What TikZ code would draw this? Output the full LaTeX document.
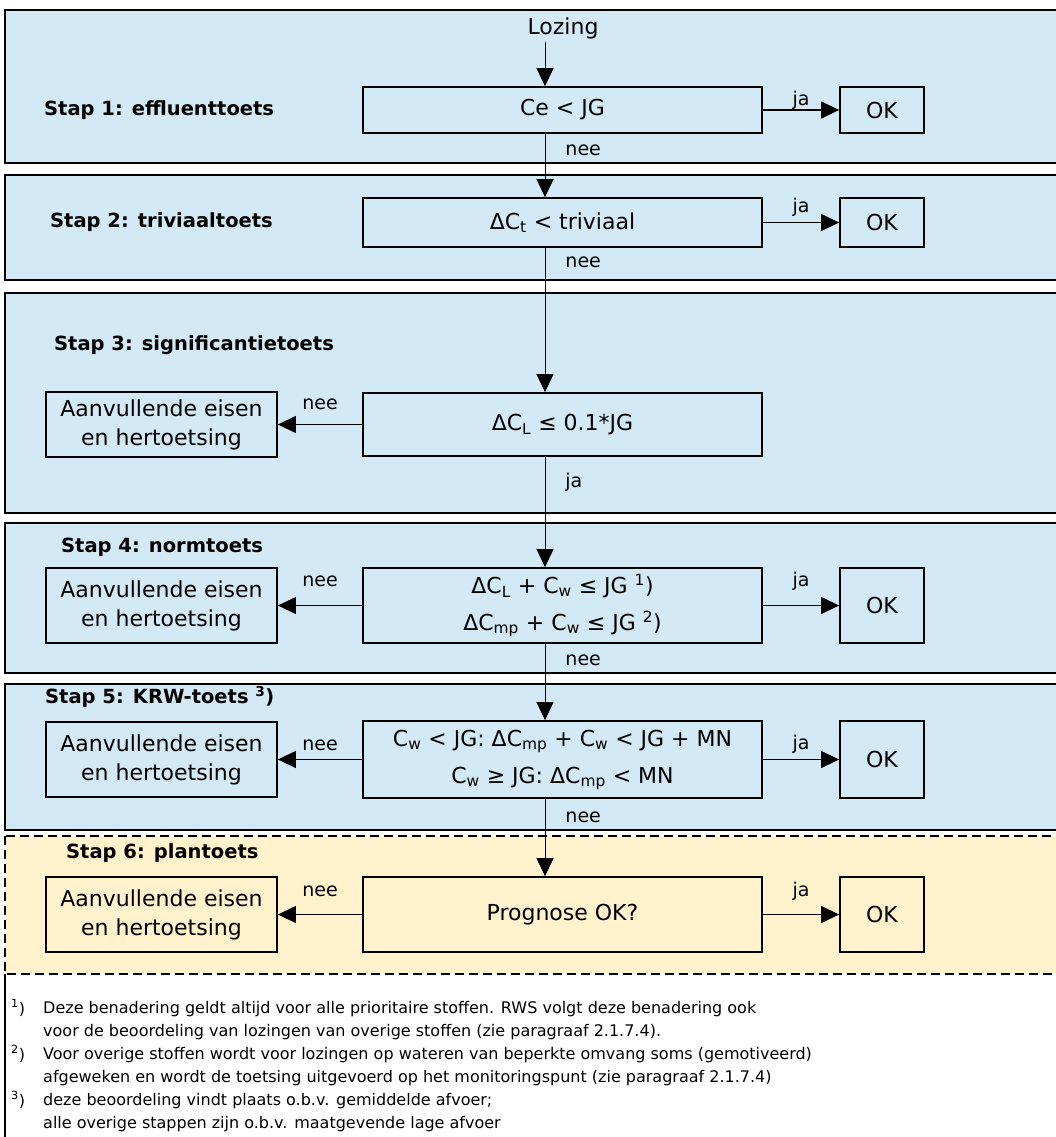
\documentclass[tikz,border=0pt]{standalone}
\usepackage{fontspec}
\setmainfont{DejaVu Sans}
\usepackage{tikz}
\usetikzlibrary{arrows.meta, positioning, calc}
\definecolor{panelblue}{RGB}{211, 233, 245}
\definecolor{panelyellow}{RGB}{255, 242, 204}

\begin{document}
\begin{tikzpicture}[
    x=1pt, y=-1pt,
    panel/.style={draw=black, line width=2.5pt, fill=panelblue},
    planpanel/.style={draw=black, line width=2.5pt, fill=panelyellow, dash pattern=on 9pt off 5pt},
    toetsbox/.style={rectangle, draw=black, line width=1.8pt, minimum width=399pt, text centered, align=center, font=\fontsize{22}{37}\selectfont},
    eisbox/.style={rectangle, draw=black, line width=1.8pt, minimum width=231pt, minimum height=75pt, text centered, align=center, font=\fontsize{22}{29}\selectfont},
    okbox/.style={rectangle, draw=black, line width=1.8pt, minimum width=84pt, font=\fontsize{22}{26}\selectfont},
    staplabel/.style={anchor=west, inner sep=0pt, font=\bfseries\fontsize{19.5}{23}\selectfont},
    lbl/.style={inner sep=0pt, font=\fontsize{19}{22}\selectfont},
    fnnr/.style={anchor=west, inner sep=0pt, font=\fontsize{16}{23}\selectfont},
    fntext/.style={anchor=north west, inner sep=0pt, align=left, font=\fontsize{16}{23}\selectfont},
    arrow/.style={-{Triangle[length=18pt, width=17pt]}, line width=1.3pt},
    flow/.style={-{Triangle[length=18pt, width=17pt]}, line width=0.9pt}
]
\useasboundingbox (0,0) rectangle (1055,1137);

% Panels
\draw[panel] (5,10) rectangle (1062,163);
\draw[panel] (5,175) rectangle (1062,280);
\draw[panel] (5,293) rectangle (1062,513);
\draw[panel] (5,523) rectangle (1062,673);
\draw[panel] (5,684) rectangle (1062,830);
\draw[planpanel] (5,836) rectangle (1062,974);
\draw[line width=2pt] (5,974) -- (5,1140);

\coordinate (spine) at (545,0);

% Stap 1
\node[font=\fontsize{22}{26}\selectfont] (lozing) at (563,28) {Lozing};
\node[staplabel] (stap1) at (44,110) {Stap 1: effluenttoets};
\node[toetsbox, minimum height=46pt] (box1) at (562.5,110) {Ce < JG};
\node[okbox, minimum height=46pt] (ok1) at (882,110) {OK};

% Stap 2
\node[staplabel] (stap2) at (50,222.5) {Stap 2: triviaaltoets};
\node[toetsbox, minimum height=49pt] (box2) at (562.5,222.5) {ΔC\textsubscript{t} < triviaal};
\node[okbox, minimum height=49pt] (ok2) at (882,222.5) {OK};

% Stap 3
\node[staplabel] (stap3) at (54,345) {Stap 3: significantietoets};
\node[toetsbox, minimum height=63pt] (box3) at (562.5,424.5) {ΔC\textsubscript{L} ≤ 0.1*JG};
\node[eisbox, minimum height=65pt] (eis3) at (161.5,424.5) {Aanvullende eisen\\en hertoetsing};

% Stap 4
\node[staplabel] (stap4) at (61,547) {Stap 4: normtoets};
\node[toetsbox, minimum height=75pt] (box4) at (562.5,605.5) {ΔC\textsubscript{L} + C\textsubscript{w} ≤ JG \textsuperscript{1})\\ΔC\textsubscript{mp} + C\textsubscript{w} ≤ JG \textsuperscript{2})};
\node[eisbox] (eis4) at (161.5,605.5) {Aanvullende eisen\\en hertoetsing};
\node[okbox, minimum height=75pt] (ok4) at (882,605.5) {OK};

% Stap 5
\node[staplabel] (stap5) at (45,697) {Stap 5: KRW-toets \textsuperscript{3})};
\node[toetsbox, minimum height=77pt] (box5) at (562.5,759.5) {C\textsubscript{w} < JG: ΔC\textsubscript{mp} + C\textsubscript{w} < JG + MN\\C\textsubscript{w} ≥ JG: ΔC\textsubscript{mp} < MN};
\node[eisbox] (eis5) at (161.5,759.5) {Aanvullende eisen\\en hertoetsing};
\node[okbox, minimum height=77pt] (ok5) at (882,759.5) {OK};

% Stap 6
\node[staplabel] (stap6) at (66,853) {Stap 6: plantoets};
\node[toetsbox, minimum height=75pt] (box6) at (562.5,914.5) {Prognose OK?};
\node[eisbox] (eis6) at (161.5,914.5) {Aanvullende eisen\\en hertoetsing};
\node[okbox, minimum height=75pt] (ok6) at (882,914.5) {OK};

% Arrows
\draw[flow] (lozing.south -| spine) -- (box1.north -| spine);
\draw[flow] (box1.south -| spine) -- node[lbl, pos=0.26, anchor=west, xshift=20pt] {nee} (box2.north -| spine);
\draw[flow] (box2.south -| spine) -- node[lbl, pos=0.10, anchor=west, xshift=20pt] {nee} (box3.north -| spine);
\draw[flow] (box3.south -| spine) -- node[lbl, pos=0.23, anchor=west, xshift=20pt] {ja} (box4.north -| spine);
\draw[flow] (box4.south -| spine) -- node[lbl, pos=0.22, anchor=west, xshift=20pt] {nee} (box5.north -| spine);
\draw[flow] (box5.south -| spine) -- node[lbl, pos=0.24, anchor=west, xshift=20pt] {nee} (box6.north -| spine);

\draw[arrow] (box1.east) -- node[lbl, yshift=10pt] {ja} (ok1.west);
\draw[arrow] (box2.east) -- node[lbl, yshift=15pt] {ja} (ok2.west);
\draw[arrow] (box3.west) -- node[lbl, yshift=20pt] {nee} (eis3.east);
\draw[arrow] (box4.west) -- node[lbl, yshift=24pt] {nee} (eis4.east);
\draw[arrow] (box4.east) -- node[lbl, yshift=24pt] {ja} (ok4.west);
\draw[arrow] (box5.west) -- node[lbl, yshift=14pt] {nee} (eis5.east);
\draw[arrow] (box5.east) -- node[lbl, yshift=15pt] {ja} (ok5.west);
\draw[arrow] (box6.west) -- node[lbl, yshift=23pt] {nee} (eis6.east);
\draw[arrow] (box6.east) -- node[lbl, yshift=23pt] {ja} (ok6.west);

% Voetnoten
\node[fnnr] (fn1-nr) at (11,1008) {\textsuperscript{1})};
\node[fntext] (fn1) at (43,1001) {Deze benadering geldt altijd voor alle prioritaire stoffen. RWS volgt deze benadering ook\\voor de beoordeling van lozingen van overige stoffen (zie paragraaf 2.1.7.4).};
\node[fnnr] (fn2-nr) at (11,1054) {\textsuperscript{2})};
\node[fntext] (fn2) at (43,1047) {Voor overige stoffen wordt voor lozingen op wateren van beperkte omvang soms (gemotiveerd)\\afgeweken en wordt de toetsing uitgevoerd op het monitoringspunt (zie paragraaf 2.1.7.4)};
\node[fnnr] (fn3-nr) at (11,1100) {\textsuperscript{3})};
\node[fntext] (fn3) at (43,1093) {deze beoordeling vindt plaats o.b.v. gemiddelde afvoer;\\alle overige stappen zijn o.b.v. maatgevende lage afvoer};

\end{tikzpicture}
\end{document}
